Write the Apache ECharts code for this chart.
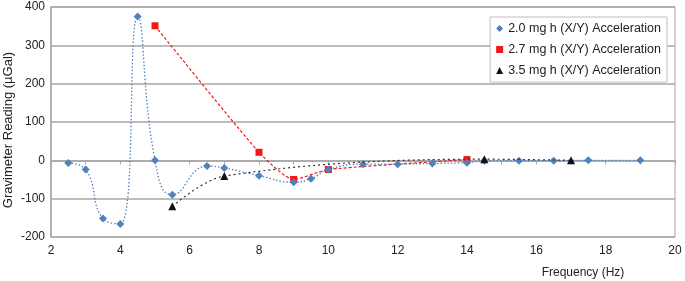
<!DOCTYPE html>
<html>
<head>
<meta charset="utf-8">
<script src="https://cdn.jsdelivr.net/npm/echarts@6/dist/echarts.min.js"></script>
<style>
  html, body { margin: 0; padding: 0; background: #fff; }
  #main { width: 685px; height: 281px; }
</style>
</head>
<body>
<div id="main"></div>
<script>
const freq20 = [2.5, 3, 3.5, 4, 4.5, 5, 5.5, 6.5, 7, 8, 9, 9.5, 10, 11, 12, 13, 14, 14.5, 15.5, 16.5, 17.5, 19];
const read20 = [-7, -24, -152, -166, 375, 0, -90, -15, -20, -40, -57, -48, -24, -10, -10, -8, -6, -1, -1, -1, 0, 0];

const freq27 = [5, 8, 9, 10, 14];
const read27 = [351, 21, -50, -24, 2];

const freq35 = [5.5, 7, 14.5, 17];
const read35 = [-120, -41, 3, 0];

const names = ['2.0 mg h (X/Y) Acceleration', '2.7 mg h (X/Y) Acceleration', '3.5 mg h (X/Y) Acceleration'];

function pairs(xs, ys) {
  return xs.map((x, i) => [x, ys[i]]);
}

const chart = echarts.init(document.getElementById('main'));
const font = 'Liberation Sans, Arial, sans-serif';

chart.setOption({
  backgroundColor: '#ffffff',
  animation: false,
  textStyle: { fontFamily: font },
  grid: {
    left: 51, right: 10, top: 7, bottom: 44,
    outerBoundsMode: 'none',
    containLabel: false,
    show: true, borderColor: '#a6a6a6', borderWidth: 1
  },
  legend: {
    right: 18, top: 17,
    orient: 'vertical',
    backgroundColor: '#fff',
    borderColor: '#bfbfbf', borderWidth: 1,
    padding: [5, 6, 5, 6],
    itemWidth: 7, itemHeight: 7, itemGap: 8,
    textStyle: { fontSize: 12.5, color: '#222', fontFamily: font },
    data: [
      { name: names[0], icon: 'diamond' },
      { name: names[1], icon: 'rect' },
      { name: names[2], icon: 'triangle' }
    ]
  },
  xAxis: {
    type: 'value', min: 2, max: 20, interval: 2,
    name: 'Frequency (Hz)', nameLocation: 'middle', nameGap: 30,
    nameMoveOverlap: false,
    nameTextStyle: { fontSize: 12, color: '#222', padding: [0, 0, 0, 440] },
    axisLine: { show: true, lineStyle: { color: '#a6a6a6', width: 1.5 } },
    axisTick: { show: true, length: 4, lineStyle: { color: '#a6a6a6' } },
    minorTick: { show: true, splitNumber: 2, length: 4, lineStyle: { color: '#a6a6a6' } },
    axisLabel: { fontSize: 12, color: '#222', margin: 8 },
    splitLine: { show: false }
  },
  yAxis: {
    type: 'value', min: -200, max: 400, interval: 100,
    name: 'Gravimeter Reading (µGal)', nameLocation: 'middle', nameGap: 36,
    nameMoveOverlap: false,
    nameTextStyle: { fontSize: 13, color: '#222', padding: [0, 16, 0, 0] },
    axisLine: { show: true, lineStyle: { color: '#a6a6a6', width: 1.5 } },
    axisTick: { show: false },
    axisLabel: { fontSize: 12, color: '#222', margin: 6 },
    splitLine: { show: true, lineStyle: { color: '#a6a6a6', width: 1.5 } }
  },
  series: [
    {
      name: names[0], type: 'line', data: pairs(freq20, read20),
      smooth: 0.5, symbol: 'diamond', symbolSize: 8,
      itemStyle: { color: '#4f81bd' },
      lineStyle: { color: '#4f81bd', width: 1.3, type: [1.5, 2] },
      z: 3
    },
    {
      name: names[1], type: 'line', data: pairs(freq27, read27),
      smooth: 0.2, symbol: 'rect', symbolSize: 7,
      itemStyle: { color: '#f01818' },
      lineStyle: { color: '#f01818', width: 1.2, type: [3, 2] },
      z: 2
    },
    {
      name: names[2], type: 'line', data: pairs(freq35, read35),
      smooth: 0.35, symbol: 'triangle', symbolSize: 8,
      itemStyle: { color: '#111' },
      lineStyle: { color: '#333', width: 1.2, type: [2, 3] },
      z: 4
    }
  ]
});
</script>
</body>
</html>
